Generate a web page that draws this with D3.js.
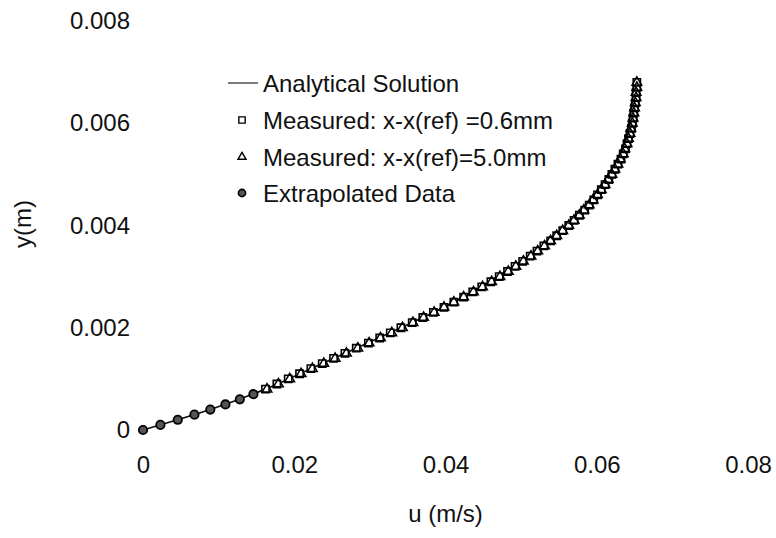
<!DOCTYPE html>
<html>
<head>
<meta charset="utf-8">
<script src="https://cdn.jsdelivr.net/npm/d3@7"></script>
<style>
  html, body { margin: 0; padding: 0; background: #fff; }
  svg { display: block; }
  text { font-family: "Liberation Sans", Arial, sans-serif; fill: #111; }
</style>
</head>
<body>
<svg id="chart" width="776" height="538"></svg>
<script>
// Axis ticks
const xTicks = [0, 0.02, 0.04, 0.06, 0.08];
const xTickLabels = ["0", "0.02", "0.04", "0.06", "0.08"];
const yTicks = [0, 0.002, 0.004, 0.006, 0.008];
const yTickLabels = ["0", "0.002", "0.004", "0.006", "0.008"];

// Extrapolated near-wall points (u in m/s, y in m)
const extrapY = [0, 0.0001, 0.0002, 0.0003, 0.0004, 0.0005, 0.0006, 0.0007];
const extrapU = [0, 0.0023, 0.0046, 0.0068, 0.0089, 0.0109, 0.0128, 0.0146];

// Measured profile, x - x(ref) = 0.6 mm
const meas06Y = [0.0008, 0.0009, 0.0010, 0.0011, 0.0012, 0.0013, 0.0014, 0.0015, 0.0016, 0.0017,
                 0.0018, 0.0019, 0.0020, 0.0021, 0.0022, 0.0023, 0.0024, 0.0025, 0.0026, 0.0027,
                 0.0028, 0.0029, 0.0030, 0.0031, 0.0032, 0.0033, 0.0034, 0.0035, 0.0036, 0.0037,
                 0.0038, 0.0039, 0.0040, 0.0041, 0.0042, 0.0043, 0.0044, 0.0045, 0.0046, 0.0047,
                 0.0048, 0.0049, 0.0050, 0.0051, 0.0052, 0.0053, 0.0054, 0.0055, 0.0056, 0.0057,
                 0.0058, 0.0059, 0.0060, 0.0061, 0.0062, 0.0063, 0.0064, 0.0065, 0.0066, 0.0067, 0.0068];
const meas06U = [0.0162, 0.0177, 0.0192, 0.0207, 0.0222, 0.0237, 0.0252, 0.0267, 0.0282, 0.0298,
                 0.0313, 0.0327, 0.0341, 0.0356, 0.0370, 0.0384, 0.0398, 0.0411, 0.0424, 0.0436,
                 0.0448, 0.0460, 0.0471, 0.0482, 0.0492, 0.0502, 0.0512, 0.0521, 0.0530, 0.0539,
                 0.0547, 0.0555, 0.0563, 0.0570, 0.0577, 0.0584, 0.0590, 0.0596, 0.0601, 0.0606,
                 0.0611, 0.0616, 0.0620, 0.0624, 0.0628, 0.0632, 0.0635, 0.0638, 0.0640, 0.0642,
                 0.0644, 0.0646, 0.0647, 0.0648, 0.0649, 0.0650, 0.0651, 0.0652, 0.0652, 0.0653, 0.0653];

// Measured profile, x - x(ref) = 5.0 mm
const meas50Y = [0.0008, 0.0009, 0.0010, 0.0011, 0.0012, 0.0013, 0.0014, 0.0015, 0.0016, 0.0017,
                 0.0018, 0.0019, 0.0020, 0.0021, 0.0022, 0.0023, 0.0024, 0.0025, 0.0026, 0.0027,
                 0.0028, 0.0029, 0.0030, 0.0031, 0.0032, 0.0033, 0.0034, 0.0035, 0.0036, 0.0037,
                 0.0038, 0.0039, 0.0040, 0.0041, 0.0042, 0.0043, 0.0044, 0.0045, 0.0046, 0.0047,
                 0.0048, 0.0049, 0.0050, 0.0051, 0.0052, 0.0053, 0.0054, 0.0055, 0.0056, 0.0057,
                 0.0058, 0.0059, 0.0060, 0.0061, 0.0062, 0.0063, 0.0064, 0.0065, 0.0066, 0.0067, 0.0068];
const meas50U = [0.0164, 0.0179, 0.0194, 0.0209, 0.0224, 0.0239, 0.0254, 0.0269, 0.0284, 0.0299,
                 0.0314, 0.0329, 0.0343, 0.0357, 0.0371, 0.0385, 0.0398, 0.0411, 0.0424, 0.0437,
                 0.0449, 0.0461, 0.0472, 0.0483, 0.0493, 0.0503, 0.0513, 0.0522, 0.0531, 0.0539,
                 0.0547, 0.0555, 0.0563, 0.0570, 0.0577, 0.0583, 0.0590, 0.0595, 0.0601, 0.0606,
                 0.0611, 0.0615, 0.0620, 0.0624, 0.0628, 0.0631, 0.0635, 0.0637, 0.0640, 0.0642,
                 0.0644, 0.0645, 0.0647, 0.0648, 0.0649, 0.0650, 0.0651, 0.0652, 0.0652, 0.0653, 0.0653];

// Analytical solution
const analyticY = [0, 0.0004, 0.0008, 0.0012, 0.0016, 0.0020, 0.0024, 0.0028, 0.0032, 0.0036,
                   0.0040, 0.0044, 0.0048, 0.0052, 0.0056, 0.0060, 0.0064, 0.0068];
const analyticU = [0, 0.0089, 0.0162, 0.0222, 0.0282, 0.0341, 0.0398, 0.0448, 0.0492, 0.0530,
                   0.0563, 0.0590, 0.0611, 0.0628, 0.0640, 0.0647, 0.0651, 0.0653];

const legendLabels = ["Analytical Solution", "Measured: x-x(ref) =0.6mm",
                      "Measured: x-x(ref)=5.0mm", "Extrapolated Data"];

const svg = d3.select("#chart");
const FS = 24;

const x = d3.scaleLinear().domain([0, 0.08]).range([143, 748]);
const y = d3.scaleLinear().domain([0, 0.008]).range([430, 21]);

// Axes: labels only, no axis lines or tick marks
const xAxis = svg.append("g")
  .attr("transform", `translate(0,${y(0)})`)
  .call(d3.axisBottom(x).tickValues(xTicks).tickSize(0).tickPadding(26)
        .tickFormat((d, i) => xTickLabels[i]));
const yAxis = svg.append("g")
  .attr("transform", `translate(${x(0)},0)`)
  .call(d3.axisLeft(y).tickValues(yTicks).tickSize(0).tickPadding(13)
        .tickFormat((d, i) => yTickLabels[i]));
[xAxis, yAxis].forEach(g => {
  g.select(".domain").remove();
  g.selectAll("text").attr("font-size", FS)
    .attr("font-family", "'Liberation Sans', Arial, sans-serif").attr("fill", "#111");
});

// Axis titles
svg.append("text").attr("x", (x(0) + x(0.08)) / 2).attr("y", 513)
  .attr("text-anchor", "middle").attr("dominant-baseline", "central")
  .attr("font-size", FS).text("u (m/s)");
svg.append("text").attr("transform", "translate(22,224) rotate(-90)")
  .attr("text-anchor", "middle").attr("dominant-baseline", "central")
  .attr("font-size", FS).text("y(m)");

// Analytical curve
const line = d3.line().x(d => x(d[0])).y(d => y(d[1])).curve(d3.curveMonotoneY);
svg.append("path")
  .datum(analyticU.map((u, i) => [u, analyticY[i]]))
  .attr("d", line).attr("fill", "none").attr("stroke", "#111").attr("stroke-width", 1.7);

const sq = d3.symbol().type(d3.symbolSquare).size(52);
const tri = d3.symbol().type(d3.symbolTriangle).size(40);

// Measured 0.6 mm: open squares
svg.append("g").selectAll("path")
  .data(meas06U.map((u, i) => [u, meas06Y[i]]))
  .join("path")
  .attr("transform", d => `translate(${x(d[0])},${y(d[1])})`)
  .attr("d", sq).attr("fill", "#fff").attr("stroke", "#000").attr("stroke-width", 1.6);

// Measured 5.0 mm: open triangles
svg.append("g").selectAll("path")
  .data(meas50U.map((u, i) => [u, meas50Y[i]]))
  .join("path")
  .attr("transform", d => `translate(${x(d[0])},${y(d[1])})`)
  .attr("d", tri).attr("fill", "none").attr("stroke", "#000").attr("stroke-width", 1.5);

// Extrapolated: filled circles
svg.append("g").selectAll("circle")
  .data(extrapU.map((u, i) => [u, extrapY[i]]))
  .join("circle")
  .attr("cx", d => x(d[0])).attr("cy", d => y(d[1])).attr("r", 4.2)
  .attr("fill", "#555").attr("stroke", "#000").attr("stroke-width", 1.8);

// Legend
const lg = svg.append("g");
const rows = [83, 120, 157, 193];
const mx = 242, tx = 263;
lg.append("line").attr("x1", 228).attr("x2", 258).attr("y1", rows[0]).attr("y2", rows[0])
  .attr("stroke", "#333").attr("stroke-width", 1.3);
lg.append("path").attr("transform", `translate(${mx},${rows[1]})`).attr("d", d3.symbol().type(d3.symbolSquare).size(40))
  .attr("fill", "#fff").attr("stroke", "#000").attr("stroke-width", 1.4);
lg.append("path").attr("transform", `translate(${mx},${rows[2]})`).attr("d", d3.symbol().type(d3.symbolTriangle).size(28))
  .attr("fill", "#fff").attr("stroke", "#000").attr("stroke-width", 1.4);
lg.append("circle").attr("cx", mx).attr("cy", rows[3]).attr("r", 3.6)
  .attr("fill", "#555").attr("stroke", "#000").attr("stroke-width", 1.6);
legendLabels.forEach((t, i) => {
  lg.append("text").attr("x", tx).attr("y", rows[i]).attr("dominant-baseline", "central")
    .attr("font-size", FS).text(t);
});
</script>
</body>
</html>
